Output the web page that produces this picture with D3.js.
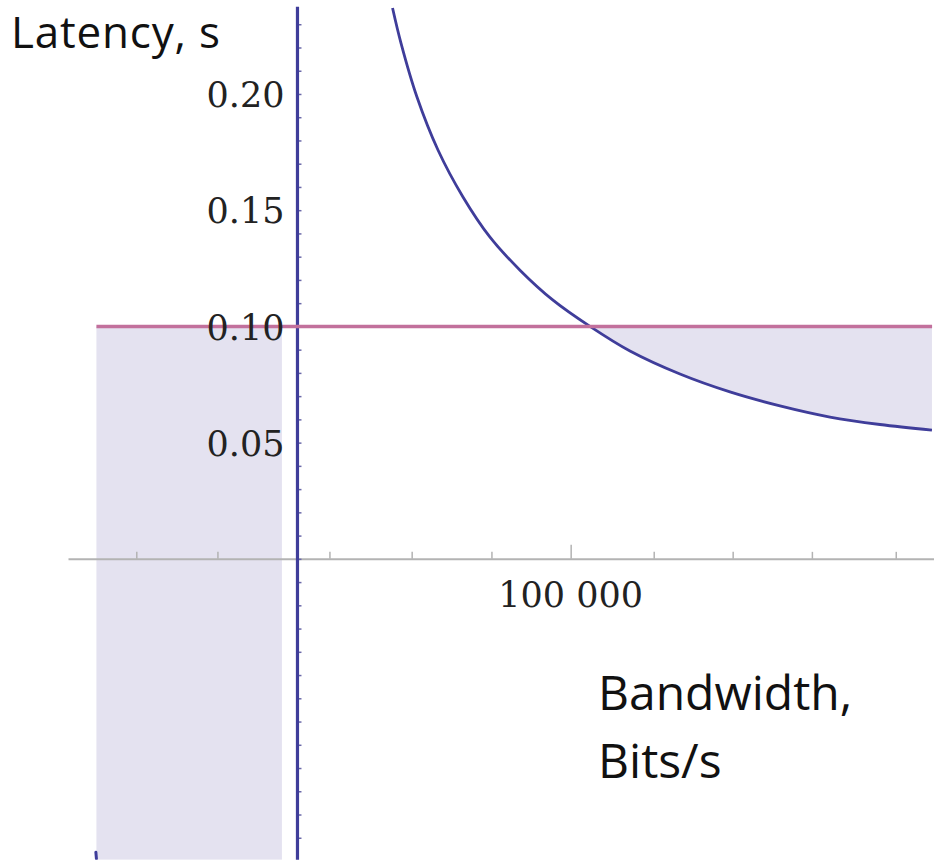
<!DOCTYPE html>
<html>
<head>
<meta charset="utf-8">
<script src="https://cdn.jsdelivr.net/npm/d3@7"></script>
<style>
  html, body { margin: 0; padding: 0; background: #fff; }
  svg { display: block; }
</style>
</head>
<body>
<svg id="chart" width="934" height="865"></svg>
<script>
// ---- data ----
const bandwidth = [34800, 37890, 43740, 51430, 60580, 70470, 81450, 93530, 107070, 121710, 140010, 158310, 176620, 194920, 213220, 232250];
const latency   = [0.2370, 0.2219, 0.1987, 0.1759, 0.1557, 0.1384, 0.1242, 0.1113, 0.1000, 0.0894, 0.0795, 0.0718, 0.0658, 0.0610, 0.0578, 0.0554];
const negBandwidth = [-73800, -73600];
const negLatency   = [-0.1262, -0.1290];
const thresholdLatency = 0.1;
const thresholdExtent = [-73600, 232300];
const leftFillExtent = [-73600, -5700];
const yAxisExtent = [-0.1295, 0.2375];
const xMinorTicks = [-59000, -29300, 11700, 41800, 71000, 130400, 159300, 188300, 219000];
const xMajorTicks = [100000];
const xTickLabels = ["100 000"];
const yTickValues = [0.05, 0.10, 0.15, 0.20];
const yTickLabels = ["0.05", "0.10", "0.15", "0.20"];
const yMinorTicks = d3.range(-12, 24).map(d => d / 100);
const yTitle = "Latency, s";
const xTitleLines = ["Bandwidth,", "Bits/s"];

// ---- scales ----
const x = d3.scaleLinear().domain([-84000, 233000]).range([68, 934]);
const y = d3.scaleLinear().domain([-0.13, 0.24]).range([861, 1]);

const svg = d3.select("#chart");
svg.append("defs").append("clipPath").attr("id", "clip")
  .append("rect").attr("x", 68).attr("y", y(yAxisExtent[1])).attr("width", 866)
  .attr("height", y(yAxisExtent[0]) - y(yAxisExtent[1]));

const curve = bandwidth.map((b, i) => ({ b, l: latency[i] }));
const neg = negBandwidth.map((b, i) => ({ b, l: negLatency[i] }));

const fillColor = "#e4e2f0";
const blue = "#3f3d9a";
const pink = "#c2709c";

// ---- filled regions ----
const plot = svg.append("g").attr("clip-path", "url(#clip)");
const below = curve.filter(d => d.l <= thresholdLatency);
plot.append("path")
  .datum(below)
  .attr("fill", fillColor)
  .attr("d", d3.area().x(d => x(d.b)).y0(y(thresholdLatency)).y1(d => y(d.l)).curve(d3.curveCatmullRom.alpha(0.5)));

plot.append("rect")
  .attr("x", x(leftFillExtent[0]))
  .attr("width", x(leftFillExtent[1]) - x(leftFillExtent[0]))
  .attr("y", y(thresholdLatency))
  .attr("height", y(yAxisExtent[0]) - y(thresholdLatency))
  .attr("fill", fillColor);

// ---- x axis ----
const xAxisG = svg.append("g").attr("transform", `translate(0,${y(0)})`);
xAxisG.call(d3.axisTop(x).tickValues(xMinorTicks).tickSize(7).tickSizeOuter(0).tickFormat(""));
xAxisG.select(".domain").attr("stroke", "#b3b3b3").attr("stroke-width", 2);
xAxisG.selectAll(".tick line").attr("stroke", "#b3b3b3").attr("stroke-width", 1.5);

const xMajG = svg.append("g").attr("transform", `translate(0,${y(0)})`);
xMajG.call(d3.axisTop(x).tickValues(xMajorTicks).tickSize(14).tickSizeOuter(0).tickFormat(""));
xMajG.select(".domain").remove();
xMajG.selectAll(".tick line").attr("stroke", "#b3b3b3").attr("stroke-width", 1.5);

svg.append("g").selectAll("text").data(xMajorTicks).join("text")
  .attr("x", d => x(d)).attr("y", y(0) + 48)
  .attr("text-anchor", "middle")
  .attr("font-family", "DejaVu Serif")
  .attr("font-size", 35)
  .attr("fill", "#222")
  .text((d, i) => xTickLabels[i]);

// ---- y axis (vertical line at zero bandwidth) ----
const yAxisG = svg.append("g").attr("transform", `translate(${x(0)},0)`);
yAxisG.call(d3.axisRight(y).tickValues(yMinorTicks).tickSize(4).tickSizeOuter(0).tickFormat(""));
yAxisG.select(".domain").remove();
yAxisG.selectAll(".tick line").attr("stroke", "#6a68a8").attr("stroke-width", 1.5);

svg.append("line")
  .attr("x1", x(0)).attr("x2", x(0))
  .attr("y1", y(yAxisExtent[1])).attr("y2", y(yAxisExtent[0]))
  .attr("stroke", blue).attr("stroke-width", 3.2);

// ---- threshold line ----
svg.append("line")
  .attr("x1", x(thresholdExtent[0])).attr("x2", x(thresholdExtent[1]))
  .attr("y1", y(thresholdLatency)).attr("y2", y(thresholdLatency))
  .attr("stroke", pink).attr("stroke-width", 3.5);

// ---- y tick labels ----
svg.append("g").selectAll("text").data(yTickValues).join("text")
  .attr("x", x(0) - 13).attr("y", d => y(d))
  .attr("dy", "0.38em")
  .attr("text-anchor", "end")
  .attr("font-family", "DejaVu Serif")
  .attr("font-size", 35)
  .attr("fill", "#222")
  .text((d, i) => yTickLabels[i]);

// ---- curves ----
const line = d3.line().x(d => x(d.b)).y(d => y(d.l)).curve(d3.curveCatmullRom.alpha(0.5));
plot.append("path").datum(curve)
  .attr("fill", "none").attr("stroke", blue).attr("stroke-width", 2.8)
  .attr("d", line);
plot.append("path").datum(neg)
  .attr("fill", "none").attr("stroke", blue).attr("stroke-width", 3)
  .attr("stroke-linecap", "round")
  .attr("d", line);

// ---- titles ----
svg.append("text")
  .attr("x", 11).attr("y", 48)
  .attr("font-family", "Open Sans")
  .attr("font-size", 44)
  .attr("letter-spacing", 0.8)
  .attr("fill", "#111")
  .text(yTitle);

svg.append("g").selectAll("text").data(xTitleLines).join("text")
  .attr("x", 598).attr("y", (d, i) => 710 + i * 68)
  .attr("font-family", "Open Sans")
  .attr("font-size", 48)
  .attr("fill", "#111")
  .text(d => d);
</script>
</body>
</html>
